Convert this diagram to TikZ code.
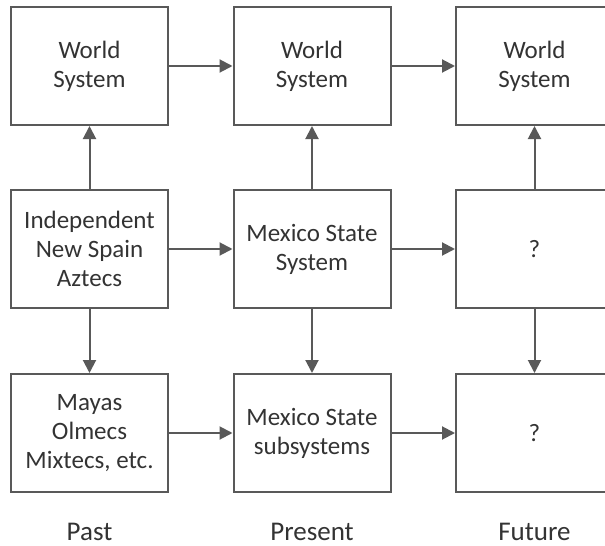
\documentclass[tikz,border=0pt]{standalone}
\usepackage{fontspec}
\setmainfont{Carlito}
\usetikzlibrary{arrows.meta}
\definecolor{linegray}{HTML}{595959}
\definecolor{textgray}{HTML}{333333}
\begin{document}
\begin{tikzpicture}[x=0.5pt,y=-0.5pt,
    box/.style={draw=linegray,line width=1pt,minimum width=78.5pt,minimum height=59pt,
      inner sep=0pt,align=center,text=textgray,font=\fontsize{12.5}{14.5}\selectfont},
    era/.style={text=textgray,font=\fontsize{13.5}{15}\selectfont},
    link/.style={draw=linegray,line width=1pt,-{Triangle[length=6.5pt,width=6.5pt]}}]
    \useasboundingbox (0,0) rectangle (605,546);
    % top row
    \node[box] (wpast) at (89.5,66) {World\\System};
    \node[box] (wnow) at (312,66) {World\\System};
    \node[box] (wnext) at (534.5,66) {World\\System};
    % middle row
    \node[box] (spast) at (89.5,249) {Independent\\New Spain\\Aztecs};
    \node[box] (snow) at (312,249) {Mexico State\\System};
    \node[box] (snext) at (534.5,249) {?};
    % bottom row
    \node[box] (bpast) at (89.5,433) {Mayas\\Olmecs\\Mixtecs, etc.};
    \node[box] (bnow) at (312,433) {Mexico State\\subsystems};
    \node[box] (bnext) at (534.5,433) {?};
    % time labels
    \node[era] (past) at (89.5,532) {Past};
    \node[era] (present) at (312,532) {Present};
    \node[era] (future) at (534.5,532) {Future};
    % connectors
    \draw[link] (wpast) -- (wnow);
    \draw[link] (wnow) -- (wnext);
    \draw[link] (spast) -- (snow);
    \draw[link] (snow) -- (snext);
    \draw[link] (bpast) -- (bnow);
    \draw[link] (bnow) -- (bnext);
    \draw[link] (spast) -- (wpast);
    \draw[link] (snow) -- (wnow);
    \draw[link] (snext) -- (wnext);
    \draw[link] (spast) -- (bpast);
    \draw[link] (snow) -- (bnow);
    \draw[link] (snext) -- (bnext);
  \end{tikzpicture}
\end{document}
